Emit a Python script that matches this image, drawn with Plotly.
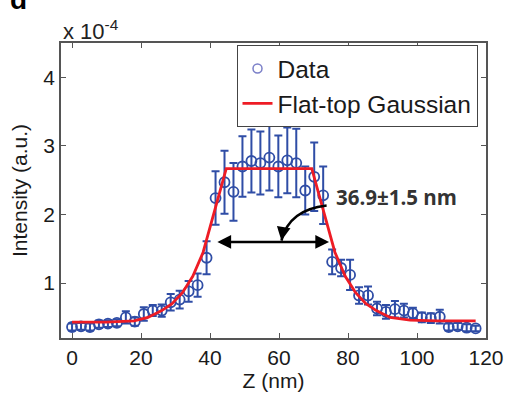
import plotly.graph_objects as go

# ---- data ----
z_nm = [0, 2.6, 5.2, 7.8, 10.4, 13, 15.6, 18.2, 20.8, 23.4, 26, 28.6, 31.2, 33.8, 36.4, 39,
        41.6, 44.2, 46.8, 49.4, 52, 54.6, 57.2, 59.8, 62.4, 65, 67.6, 70.2, 72.8,
        75.4, 78, 80.6, 83.2, 85.8, 88.4, 91, 93.6, 96.2, 98.8, 101.4, 104, 106.6,
        109.2, 111.8, 114.4, 117]
intensity = [0.36, 0.37, 0.36, 0.40, 0.41, 0.42, 0.50, 0.44, 0.55, 0.60, 0.60, 0.72, 0.76, 0.88, 0.97, 1.37,
             2.24, 2.47, 2.33, 2.70, 2.78, 2.75, 2.83, 2.70, 2.79, 2.75, 2.35, 2.55, 2.28,
             1.31, 1.22, 1.12, 0.82, 0.82, 0.63, 0.58, 0.62, 0.60, 0.56, 0.50, 0.49, 0.51,
             0.36, 0.37, 0.35, 0.34]
intensity_err = [0.05, 0.05, 0.05, 0.05, 0.05, 0.05, 0.09, 0.06, 0.10, 0.08, 0.09, 0.12, 0.13, 0.15, 0.17, 0.24,
                 0.39, 0.46, 0.42, 0.44, 0.46, 0.46, 0.48, 0.45, 0.48, 0.50, 0.35, 0.50, 0.42,
                 0.18, 0.12, 0.22, 0.12, 0.13, 0.10, 0.10, 0.12, 0.10, 0.08, 0.07, 0.07, 0.10,
                 0.05, 0.05, 0.05, 0.04]

fit_z = [0, 10, 18, 22, 26, 29, 32, 35, 38, 41, 44.7, 69.5, 73.2, 76.2, 79.2, 82.2, 85.2, 88.2, 92.2, 98, 106, 117]
fit_y = [0.43, 0.43, 0.45, 0.50, 0.60, 0.70, 0.86, 1.10, 1.45, 1.98, 2.67, 2.67, 1.98, 1.45, 1.10, 0.86, 0.70,
         0.60, 0.50, 0.46, 0.45, 0.45]

x_ticks = [0, 20, 40, 60, 80, 100, 120]
y_ticks = [1, 2, 3, 4]

fwhm_label = "36.9±1.5 nm"
fwhm_left, fwhm_right, fwhm_y = 41.7, 74.5, 1.6
curve_start = (73.8, 2.13)
curve_ctrl = (62.9, 2.07)
curve_end = (60.7, 1.62)
label_pos = (75.9, 2.25)

BLUE = "#2F4DA6"
RED = "#EE1C25"
FONT = "Liberation Sans, Arial, sans-serif"

fig = go.Figure()
fig.add_trace(go.Scatter(
    x=z_nm, y=intensity, mode="markers", showlegend=False,
    marker=dict(symbol="circle-open", size=10, color=BLUE, line=dict(width=1.8, color=BLUE)),
    error_y=dict(type="data", array=intensity_err, color=BLUE, thickness=2, width=4),
))
fig.add_trace(go.Scatter(
    x=[None], y=[None], mode="markers", name="Data",
    marker=dict(symbol="circle-open", size=9, color="#7A7FC8", line=dict(width=1.5, color="#7A7FC8")),
))
fig.add_trace(go.Scatter(
    x=fit_z, y=fit_y, mode="lines", name="Flat-top Gaussian",
    line=dict(color=RED, width=2.8),
))

# curved arrow body
fig.add_shape(type="path", xref="x", yref="y",
              path=f"M {curve_start[0]},{curve_start[1]} Q {curve_ctrl[0]},{curve_ctrl[1]} {curve_end[0]},{curve_end[1]}",
              line=dict(color="black", width=2.5))
fig.add_annotation(x=curve_end[0], y=curve_end[1], ax=2, ay=-12, xref="x", yref="y",
                   text="", showarrow=True, arrowhead=2, arrowsize=1.1, arrowwidth=2.5, arrowcolor="black")
# double-headed FWHM arrow
fig.add_annotation(x=fwhm_right, y=fwhm_y, ax=fwhm_left, ay=fwhm_y, xref="x", yref="y",
                   axref="x", ayref="y", text="", showarrow=True, arrowhead=2, startarrowhead=2,
                   arrowside="end+start", arrowsize=1.1, startarrowsize=1.1, arrowwidth=2.5, arrowcolor="black")
fig.add_annotation(x=label_pos[0], y=label_pos[1], xref="x", yref="y", text=f"<b>{fwhm_label}</b>",
                   showarrow=False, xanchor="left", yanchor="middle",
                   font=dict(family="Open Sans, sans-serif", size=20.5, color="#333333"))
# exponent label
fig.add_annotation(x=0, y=1.0, xref="paper", yref="paper", text="x 10<sup>-4</sup>",
                   showarrow=False, xanchor="left", yanchor="bottom", yshift=-3,
                   font=dict(family=FONT, size=22, color="#222222"))
# clipped panel letter
fig.add_annotation(x=-0.125, y=1.078, xref="paper", yref="paper", text="<b>d</b>",
                   showarrow=False, xanchor="left", yanchor="bottom", yshift=3,
                   font=dict(family=FONT, size=28, color="black"))

axis_common = dict(showline=True, linecolor="#555555", linewidth=1.5, mirror="ticks",
                   ticks="inside", ticklen=5, tickwidth=1, tickcolor="#555555",
                   showgrid=False, zeroline=False, automargin=False,
                   tickfont=dict(family=FONT, size=21, color="#1a1a1a"))

fig.update_xaxes(range=[-3.2, 120], tickvals=x_ticks, title=dict(text="Z (nm)", standoff=2,
                 font=dict(family=FONT, size=21, color="#1a1a1a")), **axis_common)
fig.update_yaxes(range=[0.2, 4.5], tickvals=y_ticks, title=dict(text="Intensity (a.u.)", standoff=10,
                 font=dict(family=FONT, size=21, color="#1a1a1a")), **axis_common)

fig.update_layout(
    width=508, height=393,
    margin=dict(l=61, r=22, t=43, b=55),
    paper_bgcolor="white", plot_bgcolor="white",
    legend=dict(x=0.98, y=0.993, xanchor="right", yanchor="top",
                bgcolor="white", bordercolor="#444444", borderwidth=1,
                font=dict(family=FONT, size=24.5, color="#1a1a1a"),
                tracegroupgap=0, itemwidth=30),
    showlegend=True,
)

fig.write_html("out.html")
